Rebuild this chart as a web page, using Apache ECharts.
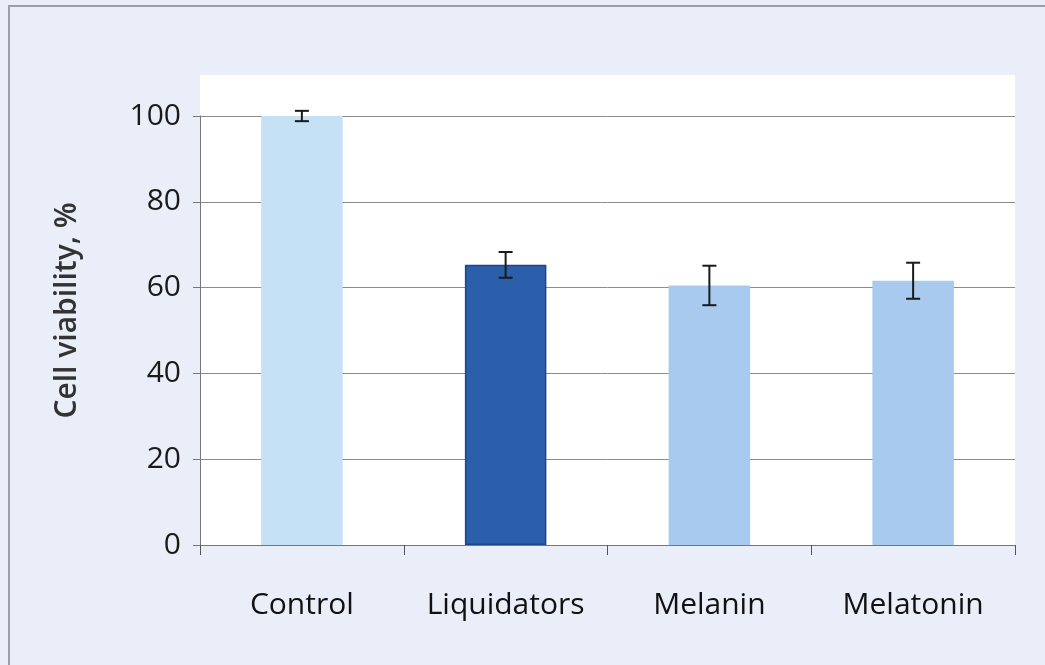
<!DOCTYPE html>
<html>
<head>
<meta charset="utf-8">
<script src="https://cdn.jsdelivr.net/npm/echarts@6/dist/echarts.min.js"></script>
<style>
html,body{margin:0;padding:0;background:#e9eef8;}
#chart{width:1045px;height:665px;}
</style>
</head>
<body>
<div id="chart"></div>
<script>
const categories = ['Control', 'Liquidators', 'Melanin', 'Melatonin'];
const values = [100, 65.3, 60.5, 61.6];
const errors = [1.2, 3.0, 4.6, 4.2];
const barColors = ['#c4e1f5', '#2b5fab', '#a7caee', '#a7caee'];
const barBorders = ['#c4e1f5', '#1d4686', '#a7caee', '#a7caee'];
const yTicks = [0, 20, 40, 60, 80, 100];

const chart = echarts.init(document.getElementById('chart'));
const font = '"Open Sans", "Noto Sans", sans-serif';

const errData = values.map((v, i) => [i, v - errors[i], v + errors[i]]);

chart.setOption({
  backgroundColor: '#e9eef8',
  animation: false,
  graphic: {
    elements: [
      { type: 'rect', z: -10, silent: true, shape: { x: 9, y: 6, width: 1100, height: 700 },
        style: { fill: 'rgba(0,0,0,0)', stroke: '#9a9ea6', lineWidth: 2 } },
      { type: 'rect', z: -10, silent: true, shape: { x: 200, y: 75, width: 815, height: 470 },
        style: { fill: '#ffffff' } }
    ]
  },
  grid: { left: 200, right: 30, top: 116, bottom: 120 },
  xAxis: {
    type: 'category',
    data: categories,
    boundaryGap: true,
    axisLine: { lineStyle: { color: '#777', width: 1 } },
    axisTick: { show: true, length: 10, interval: 0, lineStyle: { color: '#555' } },
    axisLabel: { margin: 45, fontSize: 30, color: '#111', fontFamily: font, interval: 0 }
  },
  yAxis: {
    type: 'value',
    min: 0, max: 100, interval: 20,
    name: 'Cell viability, %',
    nameLocation: 'middle',
    nameGap: 118,
    nameRotate: 90,
    nameTextStyle: { fontSize: 30, fontWeight: 600, color: '#333', fontFamily: font, padding: [0, 0, 0, 40] },
    axisLine: { show: true, lineStyle: { color: '#777', width: 1 } },
    axisTick: { show: true, length: 7, lineStyle: { color: '#777' } },
    axisLabel: { margin: 19, fontSize: 30, color: '#1a1a1a', fontFamily: font,
      formatter: v => yTicks.includes(v) ? String(v) : '' },
    splitLine: { show: true, lineStyle: { color: '#8c8c8c', width: 1 } }
  },
  series: [
    {
      type: 'bar',
      barWidth: '40%',
      data: values.map((v, i) => ({ value: v, itemStyle: { color: barColors[i], borderColor: barBorders[i], borderWidth: 1.5 } })),
      z: 2
    },
    {
      type: 'custom',
      z: 5,
      data: errData,
      renderItem: function (params, api) {
        const x = api.value(0);
        const lo = api.coord([x, api.value(1)]);
        const hi = api.coord([x, api.value(2)]);
        const cap = 7;
        const st = { stroke: '#1a1a1a', lineWidth: 2 };
        return {
          type: 'group',
          children: [
            { type: 'line', shape: { x1: hi[0], y1: hi[1], x2: lo[0], y2: lo[1] }, style: st },
            { type: 'line', shape: { x1: hi[0] - cap, y1: hi[1], x2: hi[0] + cap, y2: hi[1] }, style: st },
            { type: 'line', shape: { x1: lo[0] - cap, y1: lo[1], x2: lo[0] + cap, y2: lo[1] }, style: st }
          ]
        };
      }
    }
  ]
});
</script>
</body>
</html>
